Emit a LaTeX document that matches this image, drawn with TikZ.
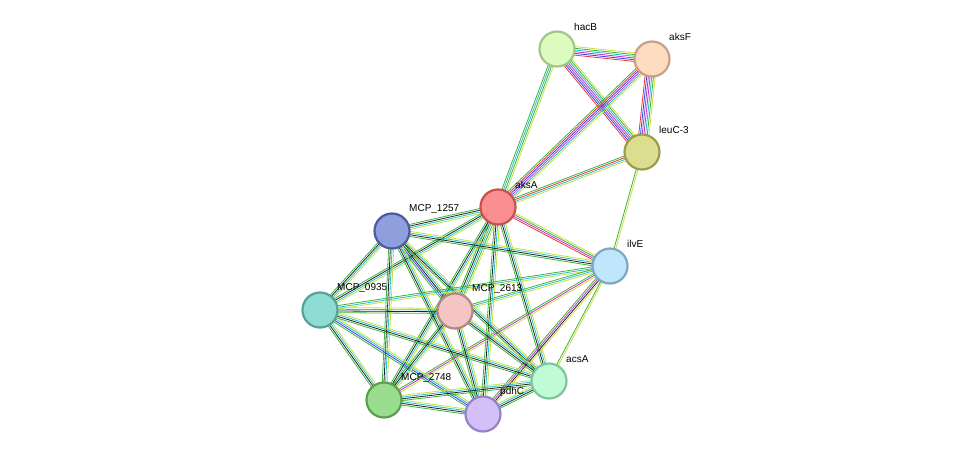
\documentclass[tikz,border=0pt]{standalone}
\usepackage{fontspec}
\setmainfont{Liberation Sans}
\usetikzlibrary{calc,backgrounds}
\definecolor{cG}{HTML}{3CB43C}
\definecolor{cY}{HTML}{C8E03C}
\definecolor{cK}{HTML}{222222}
\definecolor{cC}{HTML}{22C0D4}
\definecolor{cB}{HTML}{3C3CEE}
\definecolor{cM}{HTML}{D030D0}
\definecolor{cR}{HTML}{E83838}
\definecolor{cP}{HTML}{8050C8}
\newcommand\edg[4]{\foreach \c [count=\i] in {#4}{\pgfmathsetmacro\o{(\i-(#3+1)/2)*1.7}\draw[\c,line width=0.8pt] ($(#1)!\o pt!90:(#2)$) -- ($(#2)!\o pt!-90:(#1)$);}}
\tikzset{prot/.style={circle,minimum size=35pt,inner sep=0pt,line width=2.2pt},
lab/.style={anchor=west,font=\fontsize{10}{11}\selectfont,inner sep=0pt}}
\begin{document}
\begin{tikzpicture}[x=1pt,y=-1pt]
\useasboundingbox (0,0) rectangle (976,460);
\def\pn#1#2#3#4#5#6{\definecolor{f#1}{HTML}{#4}\definecolor{d#1}{HTML}{#5}\node[prot,fill=f#1,draw=d#1] (#1) at (#2,#3) {}; \node[lab] (#1l) at (#2+17,#3-22) {#6};}
\pn{hacB}{557}{49}{DDFCBF}{A5C488}{hacB}
\pn{aksF}{652}{59}{FDDCBF}{C9A083}{aksF}
\pn{leuC}{642}{152}{DDDD8F}{9C9C4D}{leuC-3}
\pn{aksA}{498}{207}{FB8F8F}{C9504F}{aksA}
\pn{m1257}{392}{231}{8F9FDD}{4E5AA0}{MCP\_1257}
\pn{ilvE}{610}{266}{BFE6FB}{7EA7C2}{ilvE}
\pn{m0935}{320}{310}{8FDDD2}{55A398}{MCP\_0935}
\pn{m2613}{455}{311}{F5C4C4}{B48686}{MCP\_2613}
\pn{acsA}{549}{381}{BFFCD6}{80C49A}{acsA}
\pn{m2748}{384}{400}{9BDD8F}{5A9F4E}{MCP\_2748}
\pn{pdhC}{483}{414}{D4BFF8}{9581C4}{pdhC}
\begin{pgfonlayer}{background}
\edg{hacB}{aksF}{6}{cR,cB,cM,cC,cG,cY}
\edg{hacB}{leuC}{7}{cR,cB,cP,cM,cC,cG,cY}
\edg{aksF}{leuC}{7}{cR,cB,cP,cM,cC,cG,cY}
\edg{hacB}{aksA}{4}{cG,cC,cG,cY}
\edg{aksF}{aksA}{6}{cG,cR,cB,cM,cC,cY}
\edg{leuC}{aksA}{4}{cG,cR,cC,cY}
\edg{leuC}{ilvE}{2}{cG,cY}
\edg{aksA}{ilvE}{4}{cR,cM,cG,cY}
\edg{aksA}{m1257}{4}{cG,cK,cC,cY}
\edg{aksA}{m0935}{4}{cG,cK,cC,cY}
\edg{aksA}{m2613}{5}{cG,cK,cC,cG,cY}
\edg{aksA}{m2748}{4}{cG,cK,cC,cY}
\edg{aksA}{pdhC}{4}{cG,cK,cC,cY}
\edg{aksA}{acsA}{4}{cG,cK,cC,cY}
\edg{m1257}{ilvE}{4}{cG,cK,cC,cY}
\edg{m1257}{m0935}{4}{cG,cK,cC,cY}
\edg{m1257}{m2613}{5}{cG,cB,cK,cC,cY}
\edg{m1257}{m2748}{4}{cG,cK,cC,cY}
\edg{m1257}{pdhC}{4}{cG,cK,cC,cY}
\edg{m1257}{acsA}{4}{cG,cK,cC,cY}
\edg{ilvE}{m0935}{3}{cG,cC,cY}
\edg{ilvE}{m2613}{3}{cG,cC,cY}
\edg{ilvE}{m2748}{3}{cG,cM,cY}
\edg{ilvE}{pdhC}{4}{cG,cM,cK,cY}
\edg{ilvE}{acsA}{2}{cG,cY}
\edg{m0935}{m2613}{4}{cG,cK,cC,cY}
\edg{m0935}{m2748}{4}{cG,cK,cC,cY}
\edg{m0935}{pdhC}{4}{cG,cB,cC,cY}
\edg{m0935}{acsA}{4}{cG,cK,cC,cY}
\edg{m2613}{m2748}{4}{cG,cK,cC,cY}
\edg{m2613}{pdhC}{4}{cG,cK,cC,cY}
\edg{m2613}{acsA}{4}{cG,cK,cC,cY}
\edg{m2748}{pdhC}{4}{cG,cK,cC,cY}
\edg{m2748}{acsA}{4}{cG,cK,cC,cY}
\edg{pdhC}{acsA}{4}{cG,cK,cC,cY}
\end{pgfonlayer}
\end{tikzpicture}
\end{document}
